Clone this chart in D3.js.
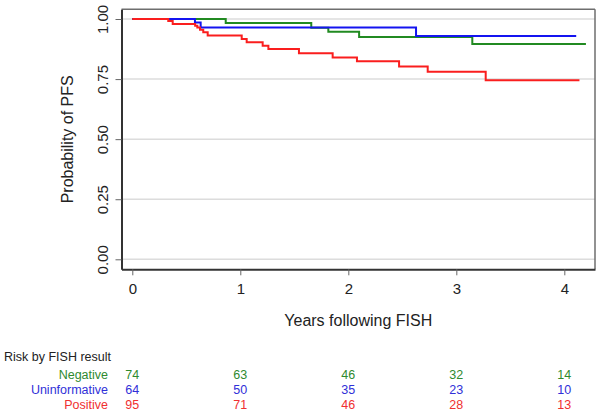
<!DOCTYPE html>
<html>
<head>
<meta charset="utf-8">
<script src="https://cdn.jsdelivr.net/npm/d3@7"></script>
<style>
  body { margin: 0; background: #fff; }
  svg { display: block; font-family: "Liberation Sans", Arial, sans-serif; }
</style>
</head>
<body>
<script>
// survival steps (time in years, probability)
var negTimes = [0, 0.865, 1.657, 1.815, 2.10, 3.148, 4.20];
var negSurv  = [1, 0.983, 0.964, 0.947, 0.925, 0.896, 0.896];
var uninfTimes = [0, 0.58, 0.633, 2.627, 4.11];
var uninfSurv  = [1, 0.985, 0.965, 0.929, 0.929];
var posTimes = [0, 0.333, 0.374, 0.582, 0.602, 0.627, 0.657, 0.698, 1.013, 1.059, 1.207, 1.26, 1.543, 1.855, 2.08, 2.47, 2.735, 3.272, 4.14];
var posSurv  = [1, 0.992, 0.979, 0.972, 0.965, 0.955, 0.945, 0.931, 0.917, 0.903, 0.889, 0.875, 0.857, 0.840, 0.824, 0.802, 0.780, 0.745, 0.745];

var groups = ['Negative', 'Uninformative', 'Positive'];
var riskTimes = [0, 1, 2, 3, 4];
var riskNeg = [74, 63, 46, 32, 14];
var riskUninf = [64, 50, 35, 23, 10];
var riskPos = [95, 71, 46, 28, 13];

var yTicks = [0, 0.25, 0.5, 0.75, 1];
var xTicks = [0, 1, 2, 3, 4];

var colors = { Negative: '#218a21', Uninformative: '#1414f0', Positive: '#fa1e1e' };
var textColors = { Negative: '#2f8a2f', Uninformative: '#3030d8', Positive: '#f03030' };

var width = 601, height = 414;
var plotLeft = 121.5, plotRight = 595, plotTop = 9.3, plotBottom = 269.3;

var svg = d3.select('body').append('svg').attr('width', width).attr('height', height);

var x = d3.scaleLinear().domain([-0.1, 4.284]).range([plotLeft, plotRight]);
var y = d3.scaleLinear().domain([-0.0416, 1.0404]).range([plotBottom, plotTop]);

// grid lines
svg.selectAll('line.grid').data(yTicks).enter().append('line')
  .attr('class', 'grid')
  .attr('x1', plotLeft).attr('x2', plotRight)
  .attr('y1', function(d) { return y(d); }).attr('y2', function(d) { return y(d); })
  .attr('stroke', '#dcdcdc').attr('stroke-width', 1.5);

// frame: top and right lighter
svg.append('line').attr('x1', plotLeft).attr('x2', plotRight).attr('y1', plotTop).attr('y2', plotTop)
  .attr('stroke', '#6e6e6e').attr('stroke-width', 1.5);
svg.append('line').attr('x1', plotRight).attr('x2', plotRight).attr('y1', plotTop).attr('y2', plotBottom)
  .attr('stroke', '#6e6e6e').attr('stroke-width', 1.5);

// axes
var yAxis = d3.axisLeft(y).tickValues(yTicks).tickFormat(d3.format('.2f')).tickSize(6).tickSizeOuter(0).tickPadding(4);
var gy = svg.append('g').attr('transform', 'translate(' + plotLeft + ',0)').call(yAxis);
gy.select('.domain').attr('stroke', '#333').attr('stroke-width', 2);
gy.selectAll('.tick line').attr('stroke', '#666').attr('stroke-width', 1);
gy.selectAll('.tick text')
  .attr('font-size', 15).attr('fill', '#222')
  .attr('text-anchor', 'middle').attr('dy', 0).attr('x', 0)
  .attr('transform', 'translate(-14,0) rotate(-90)');

var xAxis = d3.axisBottom(x).tickValues(xTicks).tickFormat(d3.format('d')).tickSize(6).tickSizeOuter(0).tickPadding(4);
var gx = svg.append('g').attr('transform', 'translate(0,' + plotBottom + ')').call(xAxis);
gx.select('.domain').attr('stroke', '#333').attr('stroke-width', 2);
gx.selectAll('.tick line').attr('stroke', '#666').attr('stroke-width', 1);
gx.selectAll('.tick text').attr('font-size', 15).attr('fill', '#222').attr('dy', 0).attr('y', 25);

// axis titles
svg.append('text').attr('x', (plotLeft + plotRight) / 2).attr('y', 326)
  .attr('text-anchor', 'middle').attr('font-size', 16).attr('fill', '#222')
  .text('Years following FISH');
svg.append('text').attr('transform', 'translate(73,' + (plotTop + plotBottom) / 2 + ') rotate(-90)')
  .attr('text-anchor', 'middle').attr('font-size', 16).attr('fill', '#222')
  .text('Probability of PFS');

// curves, drawn negative first so positive is on top
var series = [
  { name: 'Negative', t: negTimes, s: negSurv },
  { name: 'Uninformative', t: uninfTimes, s: uninfSurv },
  { name: 'Positive', t: posTimes, s: posSurv }
];
var line = d3.line().curve(d3.curveStepAfter)
  .x(function(d) { return x(d[0]); })
  .y(function(d) { return y(d[1]); });

series.forEach(function(sr) {
  var pts = sr.t.map(function(t, i) { return [t, sr.s[i]]; });
  svg.append('path').datum(pts)
    .attr('d', line)
    .attr('fill', 'none')
    .attr('stroke', colors[sr.name])
    .attr('stroke-width', 2);
});

// number at risk table
svg.append('text').attr('x', 4).attr('y', 360.7)
  .attr('font-size', 12.5).attr('fill', '#222')
  .text('Risk by FISH result');

var riskRows = [riskNeg, riskUninf, riskPos];
var rowY = [379, 394.3, 409.3];
groups.forEach(function(g, i) {
  svg.append('text').attr('x', 108).attr('y', rowY[i])
    .attr('text-anchor', 'end').attr('font-size', 12.5).attr('fill', textColors[g])
    .text(g);
  svg.selectAll('text.risk' + i).data(riskRows[i]).enter().append('text')
    .attr('class', 'risk' + i)
    .attr('x', function(d, j) { return x(riskTimes[j]); })
    .attr('y', rowY[i])
    .attr('text-anchor', 'middle').attr('font-size', 12.5).attr('fill', textColors[g])
    .text(function(d) { return d; });
});
</script>
</body>
</html>
